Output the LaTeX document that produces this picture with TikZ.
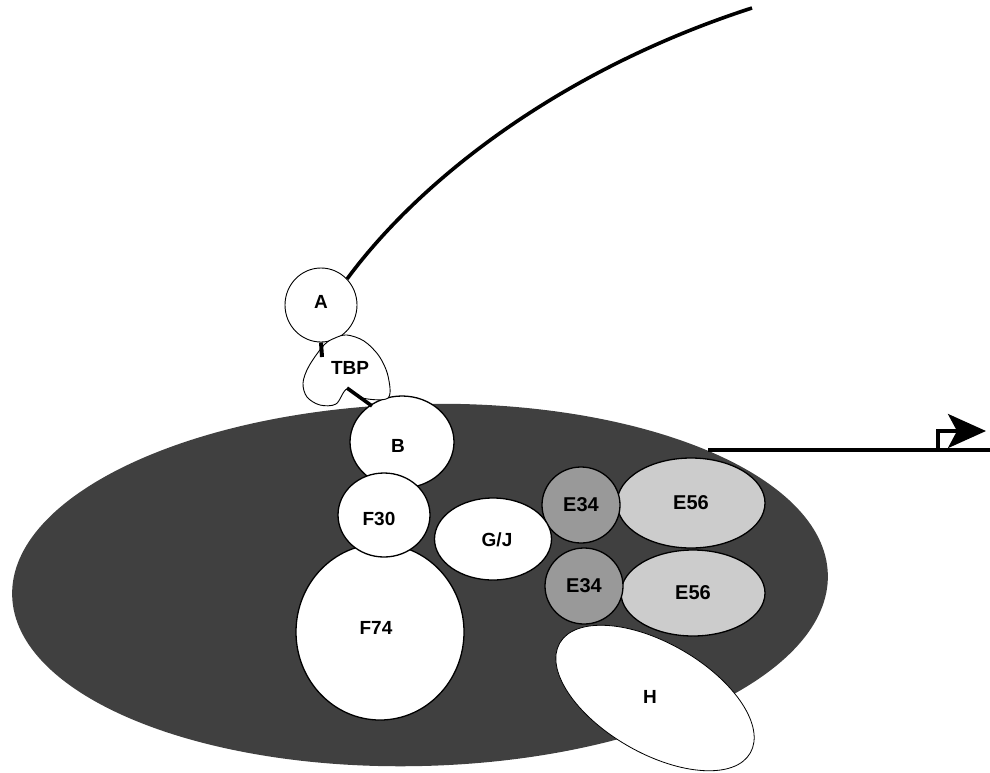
\documentclass[tikz,border=0pt]{standalone}
\usepackage{fontspec}
\setmainfont{Liberation Sans}
\usetikzlibrary{shapes.geometric,arrows.meta}
\definecolor{nucfill}{gray}{0.25}
\definecolor{efour}{gray}{0.60}
\definecolor{esix}{gray}{0.80}
\begin{document}
\begin{tikzpicture}[x=1pt,y=-1pt,
  lbl/.style={font=\fontsize{19}{21}\selectfont\bfseries},
  blob/.style={ellipse,draw=black,line width=1.3pt,fill=white,inner sep=0pt,lbl},
  eblob/.style={blob,font=\fontsize{20}{22}\selectfont\bfseries},
  thick line/.style={line width=3.6pt}]
\useasboundingbox (0,0) rectangle (990,772);
% dark body
\node (core) [ellipse,fill=nucfill,rotate=1.5,minimum width=816pt,minimum height=362pt,inner sep=0pt] at (420,585) {};
% E subunits
\node (E56a) [eblob,fill=esix,minimum width=148pt,minimum height=90pt] at (691,503) {E56};
\node (E56b) [eblob,fill=esix,minimum width=144pt,minimum height=86pt] at (693,593) {E56};
\node (E34a) [eblob,fill=efour,minimum width=78pt,minimum height=76pt] at (581,505) {E34};
\node (E34b) [eblob,fill=efour,minimum width=78pt,minimum height=76pt] at (584,586) {E34};
% G/J
\node (GJ) [blob,minimum width=117pt,minimum height=82pt] at (493,539) {};
\node (GJl) [lbl] at (497,540) {G/J};
% F74, B, F30
\node (F74) [blob,minimum width=168pt,minimum height=176pt] at (380,632) {};
\node (F74l) [lbl] at (376,628) {F74};
\node (B) [blob,minimum width=104pt,minimum height=92pt] at (402,442) {};
\node (Bl) [lbl] at (398,446) {B};
\node (F30) [blob,minimum width=92pt,minimum height=84pt] at (384,515) {};
\node (F30l) [lbl] at (379,519) {F30};
% H
\node (H) [ellipse,draw=black,line width=0.8pt,fill=white,rotate=-30,minimum width=220pt,minimum height=110pt,inner sep=0pt] at (655,698) {};
\node (Hl) [lbl] at (650,697) {H};
% A
\node (A) [blob,line width=0.9pt,minimum width=72pt,minimum height=74pt] at (321,305) {};
\node (Al) [lbl] at (321,302) {A};
% TBP
\draw[line width=0.9pt,fill=white] plot[smooth cycle,tension=0.55] coordinates
  {(324,345) (309,366) (303,383) (307,397) (320,405) (336,404) (347,389) (362,398) (388,398) (388,376) (379,356) (364,341) (347,335) (335,338)};
\node (TBP) [lbl] at (350,368) {TBP};
% connectors
\coordinate (tbpTop) at (322,357);
\coordinate (tbpNotch) at (347,388);
\coordinate (Btop) at (372,406);
\draw[line width=4pt] (A.south) -- (tbpTop);
\draw[thick line] (tbpNotch) -- (Btop);
\coordinate (tail) at (752,8);
\draw[thick line] (A.45) .. controls (420,180) and (560,70) .. (tail);
% promoter arrow
\coordinate (pstart) at (708,450);
\coordinate (pend) at (990,450);
\coordinate (pbend) at (938,450);
\coordinate (ptip) at (986,431);
\draw[thick line] (pstart) -- (pend);
\draw[thick line,-{Stealth[length=38pt,width=34pt,inset=9pt]}] (pbend) -- (938,431) -- (ptip);
\end{tikzpicture}
\end{document}
